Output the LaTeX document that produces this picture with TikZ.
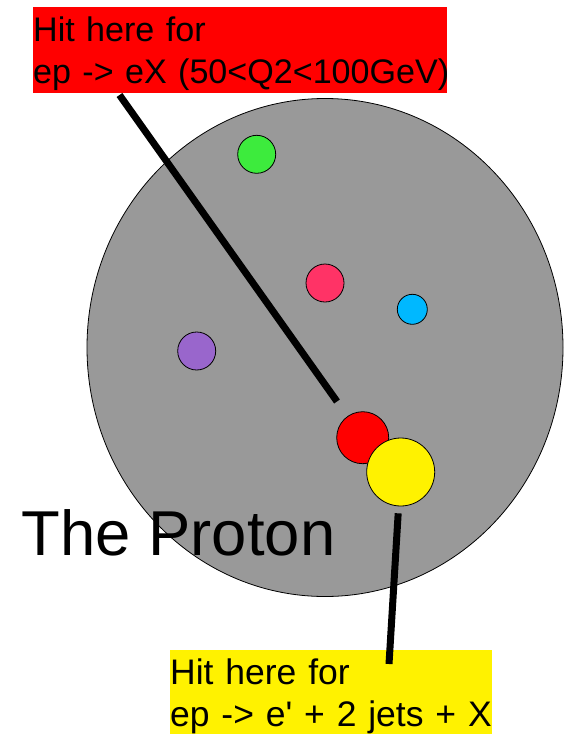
\documentclass[tikz,border=0pt]{standalone}
\usepackage{fontspec}
\setmainfont{Liberation Sans}
\usetikzlibrary{shapes.geometric}
\definecolor{protongray}{RGB}{153,153,153}
\definecolor{partongreen}{RGB}{61,235,61}
\definecolor{partonpink}{RGB}{255,51,102}
\definecolor{partonblue}{RGB}{0,184,255}
\definecolor{partonpurple}{RGB}{153,102,204}
\begin{document}
\begin{tikzpicture}[x=1pt, y=-1pt,
    parton/.style={circle, draw=black, line width=0.8pt, inner sep=0pt},
    stick/.style={line width=7pt, black},
    hitlabel/.style={anchor=north west, inner sep=0pt, align=left}]
    % Frame
    \useasboundingbox (0,0) rectangle (571,734);
    % The proton
    \node[ellipse, draw=black, line width=0.8pt, fill=protongray, inner sep=0pt,
          minimum width=476pt, minimum height=498pt] (proton) at (325,347.5) {};
    % Partons
    \node[parton, fill=partongreen, minimum size=38pt] (green) at (256.7,154.3) {};
    \node[parton, fill=partonpink, minimum size=38pt] (pink) at (325,283) {};
    \node[parton, fill=partonblue, minimum size=30pt] (blue) at (412.3,309.3) {};
    \node[parton, fill=partonpurple, minimum size=38pt] (purple) at (196.7,351) {};
    \node[parton, fill=red, minimum size=52pt] (red) at (362.7,437.7) {};
    \node[parton, fill=yellow, minimum size=68pt] (yellow) at (400.7,472) {};
    % Name
    \node[anchor=base west, inner sep=0pt, font=\fontsize{63.4}{70}\selectfont] (title) at (21.5,555) {The Proton};
    % Hit labels
    \node[hitlabel, fill=red, text width=414pt, text height=34.7pt, text depth=51.3pt,
          font=\fontsize{34.1}{41.6}\selectfont] (hitred) at (33,7)
          {Hit here for\\\mbox{ep -> eX (50<Q2<100GeV)}};
    \node[hitlabel, fill=yellow, text width=322pt, text height=34.3pt, text depth=49.7pt,
          font=\fontsize{35.5}{42.4}\selectfont] (hityellow) at (170,650)
          {Hit here for\\\mbox{ep -> e\textquotesingle{} + 2 jets + X}};
    % Sticks
    \coordinate (redfrom) at (119.5,95);
    \coordinate (yellowto) at (389,664);
    \draw[stick, shorten >=18pt] (redfrom) -- (red);
    \draw[stick, shorten <=7pt] (yellow) -- (yellowto);
\end{tikzpicture}
\end{document}
